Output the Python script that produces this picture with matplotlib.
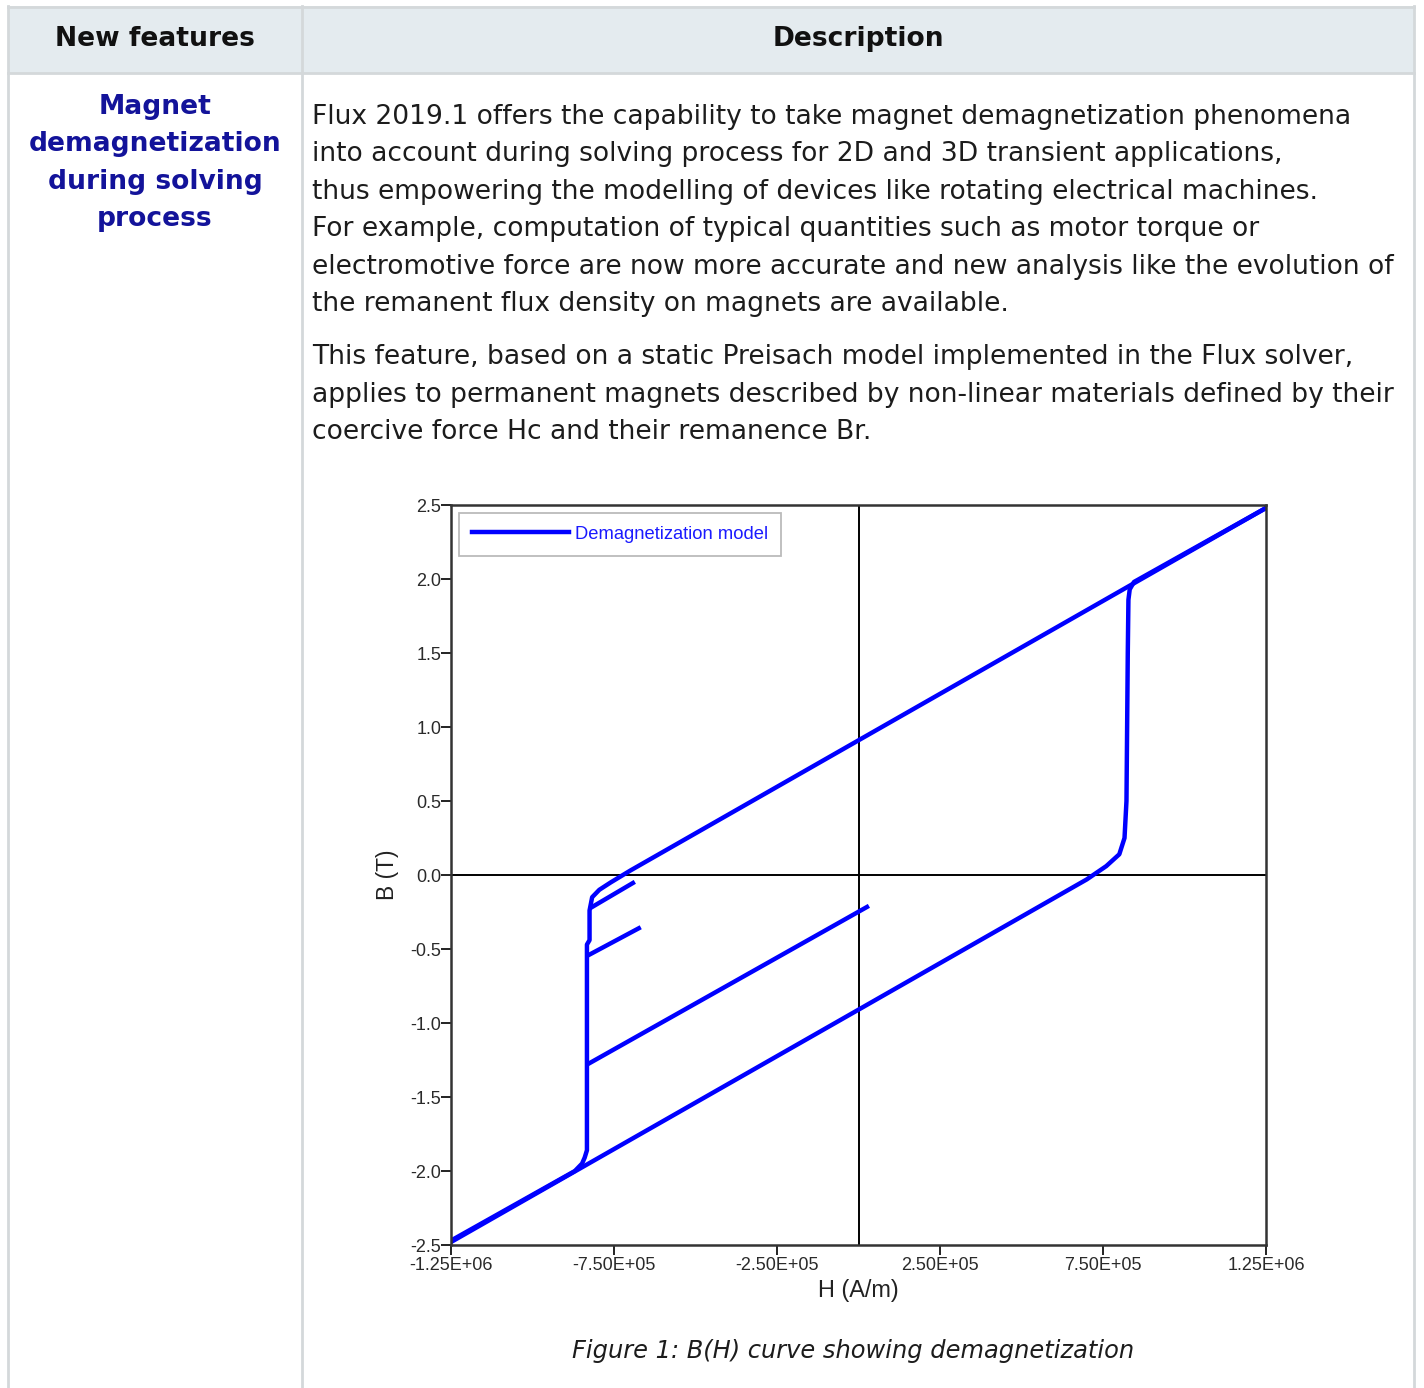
import numpy as np
import matplotlib.pyplot as plt
from matplotlib.patches import Rectangle
from matplotlib.lines import Line2D

W, H = 1424, 1388

# ---- table text ----
header_left = "New features"
header_right = "Description"
feature_lines = ["Magnet", "demagnetization", "during solving", "process"]
para1 = [
    "Flux 2019.1 offers the capability to take magnet demagnetization phenomena",
    "into account during solving process for 2D and 3D transient applications,",
    "thus empowering the modelling of devices like rotating electrical machines.",
    "For example, computation of typical quantities such as motor torque or",
    "electromotive force are now more accurate and new analysis like the evolution of",
    "the remanent flux density on magnets are available.",
]
para2 = [
    "This feature, based on a static Preisach model implemented in the Flux solver,",
    "applies to permanent magnets described by non-linear materials defined by their",
    "coercive force Hc and their remanence Br.",
]
caption = "Figure 1: B(H) curve showing demagnetization"

# ---- B(H) curve data (H in A/m, B in T) ----
down_H = [1.25e6, 0.0, -0.70e6, -0.76e6, -0.795e6, -0.817e6, -0.825e6, -0.825e6,
          -0.833e6, -0.833e6, -0.840e6, -0.848e6, -0.87e6, -1.25e6]
down_B = [2.48, 0.91, 0.03, -0.05, -0.10, -0.15, -0.24, -0.44,
          -0.47, -1.86, -1.91, -1.95, -2.0, -2.47]
up_H = [-1.25e6, 0.0, 0.70e6, 0.76e6, 0.80e6, 0.816e6, 0.822e6, 0.826e6,
        0.828e6, 0.832e6, 0.845e6, 1.25e6]
up_B = [-2.48, -0.91, -0.03, 0.06, 0.14, 0.25, 0.50, 1.50,
        1.86, 1.93, 1.98, 2.48]
recoil_H = [[-0.817e6, -0.692e6], [-0.827e6, -0.674e6], [-0.824e6, 0.026e6]]
recoil_B = [[-0.216, -0.054], [-0.54, -0.36], [-1.27, -0.216]]

xticks = [-1.25e6, -7.5e5, -2.5e5, 2.5e5, 7.5e5, 1.25e6]
xticklabels = ["-1.25E+06", "-7.50E+05", "-2.50E+05", "2.50E+05", "7.50E+05", "1.25E+06"]
yticks = [2.5, 2.0, 1.5, 1.0, 0.5, 0.0, -0.5, -1.0, -1.5, -2.0, -2.5]
yticklabels = ["2.5", "2.0", "1.5", "1.0", "0.5", "0.0", "-0.5", "-1.0", "-1.5", "-2.0", "-2.5"]

fig = plt.figure(figsize=(W / 100, H / 100), dpi=100)
fig.patch.set_facecolor("white")

def fx(x): return x / W
def fy(y): return 1 - y / H

# header background
fig.add_artist(Rectangle((fx(8), fy(73)), fx(1414) - fx(8), fy(6) - fy(73),
                         transform=fig.transFigure, facecolor="#e4ebef", edgecolor="none"))
bc = "#d4d8da"
for xs, ys in [([8, 1414], [7, 7]), ([8, 1414], [73, 73]), ([8, 8], [6, 1388]),
               ([302, 302], [6, 1388]), ([1414, 1414], [6, 1388])]:
    fig.add_artist(Line2D([fx(v) for v in xs], [fy(v) for v in ys],
                          transform=fig.transFigure, color=bc, lw=2))

fs = 19.1
fig.text(fx(155), fy(39), header_left, ha="center", va="center", fontsize=fs,
         fontweight="bold", color="#111111")
fig.text(fx(858), fy(39), header_right, ha="center", va="center", fontsize=fs,
         fontweight="bold", color="#111111")
for i, s in enumerate(feature_lines):
    fig.text(fx(155), fy(107 + i * 37.3), s, ha="center", va="center", fontsize=fs,
             fontweight="bold", color="#13139a")
for i, s in enumerate(para1):
    fig.text(fx(312), fy(117 + i * 37.4), s, ha="left", va="center", fontsize=fs,
             color="#1c1c1c")
for i, s in enumerate(para2):
    fig.text(fx(312), fy(357 + i * 37.5), s, ha="left", va="center", fontsize=fs,
             color="#1c1c1c")
fig.text(fx(853), fy(1351), caption, ha="center", va="center", fontsize=17.4,
         style="italic", color="#1c1c1c")

# ---- chart ----
ax = fig.add_axes([fx(451), fy(1245), fx(1266) - fx(451), fy(505) - fy(1245)])
ax.plot(down_H, down_B, color="#0000ff", lw=3.2, label="Demagnetization model")
ax.plot(up_H, up_B, color="#0000ff", lw=3.2)
for hh, bb in zip(recoil_H, recoil_B):
    ax.plot(hh, bb, color="#0000ff", lw=3.2)
ax.axhline(0, color="black", lw=1.4, zorder=1)
ax.axvline(0, color="black", lw=1.4, zorder=1)
ax.set_xlim(-1.25e6, 1.25e6)
ax.set_ylim(-2.5, 2.5)
tick_font = dict(family="Liberation Sans", size=13)
ax.set_xticks(xticks)
ax.set_xticklabels(xticklabels, fontdict=tick_font, color="#2a2a2a")
ax.set_yticks(yticks)
ax.set_yticklabels(yticklabels, fontdict=tick_font, color="#2a2a2a")
ax.tick_params(axis="x", length=7, width=1.4, pad=2, color="#222222")
ax.tick_params(axis="y", length=7, width=1.4, pad=0, color="#222222")
for sp in ax.spines.values():
    sp.set_color("#333333")
    sp.set_linewidth(1.8)
ax.set_xlabel("H (A/m)", family="Liberation Sans", fontsize=16.9, color="#222222", labelpad=3)
ax.set_ylabel("B (T)", family="Liberation Sans", fontsize=16.5, color="#222222", labelpad=8)
leg = ax.legend(loc="upper left", frameon=True, fancybox=False, handlelength=5.3,
                prop={"family": "Liberation Sans", "size": 13.2}, labelcolor="#1a1aff",
                borderaxespad=0.44, borderpad=0.7, handletextpad=0.35)
leg.get_frame().set_edgecolor("#aaaaaa")
leg.get_frame().set_linewidth(1.3)

fig.savefig("out.png", dpi=100)
